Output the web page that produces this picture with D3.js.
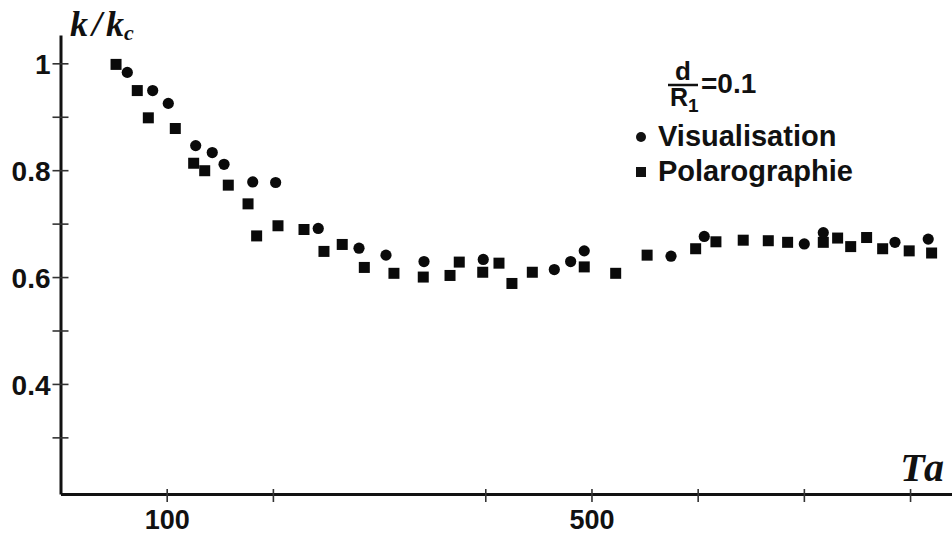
<!DOCTYPE html>
<html>
<head>
<meta charset="utf-8">
<script src="https://cdn.jsdelivr.net/npm/d3@7"></script>
<style>
  html, body { margin: 0; padding: 0; background: #fff; }
  svg { display: block; }
</style>
</head>
<body>
<script>
// Visualisation measurements: Taylor number and reduced wavenumber
const visTa = [62.9, 86.8, 101.5, 127.3, 142.9, 154, 181, 202.6, 242.7, 281.1, 306.5, 342.3,
               398.1, 465, 480.4, 493.2, 574.9, 606.2, 700.4, 718.3, 785.8, 817.1];
const visK  = [0.983, 0.949, 0.925, 0.846, 0.833, 0.811, 0.778, 0.777, 0.691, 0.654, 0.641, 0.629,
               0.633, 0.614, 0.629, 0.649, 0.639, 0.676, 0.662, 0.683, 0.665, 0.671];

// Polarographie measurements
const polTa = [52.3, 72.3, 82.7, 108.1, 125.4, 135.8, 158, 176.6, 184.7, 204.8, 229.3, 248.1,
               265.3, 286.1, 314, 341.6, 366.8, 375.5, 397.6, 412.9, 425.1, 444.3, 493.2, 522.8,
               552.4, 598.1, 617.2, 642.9, 666.5, 684.7, 718.3, 731.8, 744.1, 759.1, 774.2, 799.2, 820.3];
const polK  = [0.998, 0.949, 0.898, 0.878, 0.813, 0.799, 0.772, 0.737, 0.677, 0.696, 0.689, 0.648,
               0.661, 0.618, 0.607, 0.600, 0.603, 0.628, 0.609, 0.626, 0.588, 0.609, 0.619, 0.607,
               0.641, 0.653, 0.666, 0.669, 0.668, 0.665, 0.665, 0.673, 0.657, 0.674, 0.653, 0.649, 0.645];

// Axis ticks and labels
const xTicks = [100, 200, 400, 500, 600, 700, 800];
const xLabels = [100, 500];
const yTicks = [0.3, 0.4, 0.5, 0.6, 0.7, 0.8, 0.9, 1.0];
const yLabels = [0.4, 0.6, 0.8, 1.0];

const legendNames = ["Visualisation", "Polarographie"];

const W = 952, H = 534;
const svg = d3.select("body").append("svg").attr("width", W).attr("height", H);

const x = d3.scaleLinear().domain([0, 839.5]).range([60.5, 952]);
const y = d3.scaleLinear().domain([0.194, 1.053]).range([494, 35]);

const labelFont = "'Liberation Sans', Arial, sans-serif";

// X axis
const gx = svg.append("g").attr("transform", `translate(0,${y(0.194)})`)
  .call(d3.axisBottom(x).tickValues(xTicks).tickSizeOuter(0).tickSizeInner(8)
    .tickFormat(d => xLabels.includes(d) ? d3.format("d")(d) : ""));
gx.select(".domain").attr("stroke", "#111").attr("stroke-width", 3);
gx.selectAll(".tick line").attr("y1", -5).attr("y2", 8).attr("stroke", "#333").attr("stroke-width", 1.6);
gx.selectAll(".tick text").attr("font-family", labelFont).attr("font-weight", "bold")
  .attr("font-size", 27).attr("fill", "#111").attr("y", 35).attr("dy", 0);

// Y axis
const gy = svg.append("g").attr("transform", `translate(${x(0)},0)`)
  .call(d3.axisLeft(y).tickValues(yTicks).tickSizeOuter(0).tickSizeInner(8).tickPadding(2)
    .tickFormat(d => yLabels.some(v => Math.abs(v - d) < 1e-9) ? (d === 1 ? "1" : d3.format(".1f")(d)) : ""));
gy.select(".domain").attr("stroke", "#111").attr("stroke-width", 3);
gy.selectAll(".tick line").attr("x1", -8).attr("x2", 8).attr("stroke", "#333").attr("stroke-width", 1.6);
gy.selectAll(".tick text").attr("font-family", labelFont).attr("font-weight", "bold")
  .attr("font-size", 28).attr("fill", "#111").attr("dy", "0.36em");

// Axis titles
const yTitle = svg.append("text").attr("x", 70).attr("y", 36)
  .attr("font-family", "'Liberation Serif', 'Times New Roman', serif")
  .attr("font-style", "italic").attr("font-weight", "bold").attr("font-size", 36).attr("fill", "#111");
yTitle.append("tspan").text("k");
yTitle.append("tspan").attr("dx", 4).text("/");
yTitle.append("tspan").attr("dx", 4).text("k");
yTitle.append("tspan").attr("font-size", 22).attr("dy", 4).text("c");

svg.append("text").attr("x", 947).attr("y", 481).attr("text-anchor", "end")
  .attr("font-family", "'Liberation Serif', 'Times New Roman', serif")
  .attr("font-style", "italic").attr("font-weight", "bold").attr("font-size", 40)
  .attr("letter-spacing", 3).attr("fill", "#111").text("Ta");

// Data marks
const visData = visTa.map((t, i) => ({ t, k: visK[i] }));
const polData = polTa.map((t, i) => ({ t, k: polK[i] }));
const sq = 11;

svg.append("g").selectAll("rect").data(polData).join("rect")
  .attr("x", d => x(d.t) - sq / 2).attr("y", d => y(d.k) - sq / 2)
  .attr("width", sq).attr("height", sq).attr("fill", "#0a0a0a");

svg.append("g").selectAll("circle").data(visData).join("circle")
  .attr("cx", d => x(d.t)).attr("cy", d => y(d.k)).attr("r", 5.6).attr("fill", "#0a0a0a");

// Legend: ratio d/R1 and series keys
const lg = svg.append("g").attr("font-family", labelFont).attr("font-weight", "bold").attr("fill", "#111");
lg.append("text").attr("x", 683).attr("y", 80).attr("text-anchor", "middle").attr("font-size", 26).text("d");
lg.append("line").attr("x1", 668).attr("x2", 698).attr("y1", 85).attr("y2", 85)
  .attr("stroke", "#111").attr("stroke-width", 2.5);
const rText = lg.append("text").attr("x", 670).attr("y", 106).attr("font-size", 25);
rText.append("tspan").text("R");
rText.append("tspan").attr("font-size", 19).attr("dy", 6).text("1");
lg.append("text").attr("x", 701).attr("y", 93).attr("font-size", 28).text("=0.1");

lg.append("circle").attr("cx", 641).attr("cy", 137).attr("r", 5).attr("fill", "#111");
lg.append("text").attr("x", 658).attr("y", 146).attr("font-size", 29).text(legendNames[0]);
lg.append("rect").attr("x", 636).attr("y", 167).attr("width", 10).attr("height", 10).attr("fill", "#111");
lg.append("text").attr("x", 658).attr("y", 181).attr("font-size", 29).text(legendNames[1]);
</script>
</body>
</html>
